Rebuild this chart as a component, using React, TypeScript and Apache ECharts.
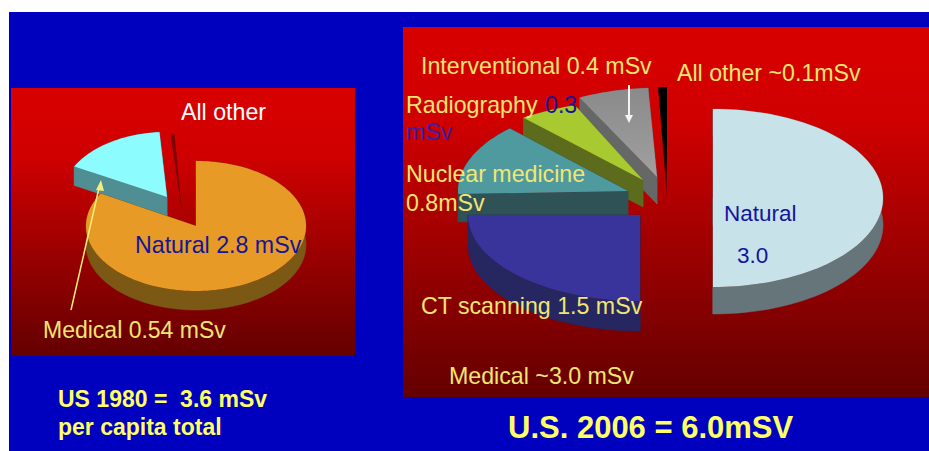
import React, { useEffect, useRef } from "react";
import * as echarts from "echarts";

// Annual per-capita dose, mSv
const names1980 = ["All other", "Medical", "Natural"];
const values1980 = [0.02, 0.54, 2.8];
const names2006 = ["All other", "Interventional", "Radiography", "Nuclear medicine", "CT scanning", "Natural"];
const values2006 = [0.1, 0.4, 0.3, 0.8, 1.5, 3.0];

// Each 1980 slice's share is taken against everything drawn on that pie
const total1980 = values1980.reduce((a, b) => a + b, 0);
const total2006 = 6.0;

type Look = { cx: number; cy: number; rx: number; ry: number; depth: number; start: number; top: string | string[]; side: string | string[] };

// Exploded placement of every wedge, listed back to front
const looks1980: Look[] = [
  { cx: 182, cy: 212, rx: 110, ry: 78, depth: 0, start: 354, top: "#7c0505", side: "#7c0505" },
  { cx: 167, cy: 197, rx: 105, ry: 65, depth: 19, start: 298, top: "#8cfcfe", side: "#4f8e92" },
  { cx: 196, cy: 226, rx: 110, ry: 65, depth: 19, start: 0, top: "#e89a26", side: "#7b5915" },
];
const looks2006: Look[] = [
  { cx: 667, cy: 197, rx: 85, ry: 110, depth: 0, start: 354, top: ["#000000", "#000000", "#7a0000"], side: "#000000" },
  { cx: 657, cy: 177, rx: 170, ry: 89, depth: 27, start: 333, top: ["#8a8a8a", "#a0a0a0"], side: "#666868" },
  { cx: 643, cy: 180, rx: 190, ry: 80, depth: 27, start: 321, top: "#a8c92f", side: "#5d6c1c" },
  { cx: 628, cy: 191, rx: 170, ry: 87, depth: 28, start: 268, top: "#4f9a9f", side: "#2f5256" },
  { cx: 640, cy: 215, rx: 172, ry: 86, depth: 30, start: 180, top: "#39349c", side: "#262660" },
  { cx: 713, cy: 198, rx: 170, ry: 89, depth: 27, start: 0, top: "#c7e2e8", side: "#66757a" },
];

const panels = [
  { x: 11, y: 88, w: 344, h: 268 },
  { x: 403, y: 27, w: 526, h: 370 },
];

const YELLOW = "#f2e672";
const TITLE = "#ffff66";
const BLUE = "#14149c";

const captions = [
  { text: "All other", x: 181, y: 112, fill: "#ffffff", size: 23.2 },
  { text: "Natural 2.8 mSv", x: 135, y: 245, fill: BLUE, size: 23.2 },
  { text: "Medical 0.54 mSv", x: 43, y: 330, fill: YELLOW, size: 23 },
  { text: "Interventional 0.4 mSv", x: 421, y: 66, fill: YELLOW, size: 23.2 },
  { text: "Radiography", x: 406, y: 105, fill: YELLOW, size: 23.2 },
  { text: "0.3", x: 545, y: 105, fill: BLUE, size: 23.2 },
  { text: "mSv", x: 406, y: 132, fill: "#3a20a8", size: 23.2 },
  { text: "Nuclear medicine", x: 406, y: 174, fill: YELLOW, size: 23.2 },
  { text: "0.8mSv", x: 406, y: 203, fill: YELLOW, size: 23.2 },
  { text: "All other ~0.1mSv", x: 677, y: 73, fill: YELLOW, size: 23.2 },
  { text: "Natural", x: 724, y: 213, fill: BLUE, size: 22.5 },
  { text: "3.0", x: 737, y: 255, fill: BLUE, size: 22.5 },
  { text: "CT scanning 1.5 mSv", x: 421, y: 306, fill: YELLOW, size: 23.2 },
  { text: "Medical ~3.0 mSv", x: 449, y: 376, fill: YELLOW, size: 23.2 },
];
const headings = [
  { text: "US 1980 =  3.6 mSv", x: 58, y: 399, fill: TITLE, size: 23 },
  { text: "per capita total", x: 58, y: 427, fill: TITLE, size: 23 },
  { text: "U.S. 2006 = 6.0mSV", x: 508, y: 427, fill: TITLE, size: 31 },
];

function paint(c: string | string[]) {
  if (typeof c === "string") return c;
  const stops = c.map((color, i) => ({ offset: i / (c.length - 1), color }));
  return new echarts.graphic.LinearGradient(0, 0, 0, 1, stops);
}

// One wedge of a tilted pie: radial faces and rim first, then the lid
function wedge(value: number, total: number, look: Look) {
  const { cx, cy, rx, ry, depth, start } = look;
  const sweep = (value / total) * 360;
  const steps = Math.max(2, Math.ceil(sweep / 2));
  const arc: number[][] = [];
  for (let i = 0; i <= steps; i++) {
    const a = ((start + (sweep * i) / steps) * Math.PI) / 180;
    arc.push([cx + rx * Math.sin(a), cy - ry * Math.cos(a)]);
  }
  const down = (p: number[]) => [p[0], p[1] + depth];
  const apex = [cx, cy];
  const children: any[] = [];
  const side = paint(look.side);
  if (depth > 0) {
    const faces = [
      [apex, arc[0], down(arc[0]), down(apex)],
      [apex, arc[steps], down(arc[steps]), down(apex)],
      [...arc, ...arc.slice().reverse().map(down)],
    ];
    for (const points of faces) {
      children.push({ type: "polygon", shape: { points }, style: { fill: side, stroke: side, lineWidth: 0.5 } });
    }
  }
  children.push({ type: "polygon", shape: { points: [apex, ...arc] }, style: { fill: paint(look.top) } });
  return { type: "group", children };
}

function pieSeries(name: string, names: string[], values: number[], total: number, looks: Look[]) {
  return {
    type: "custom",
    name,
    coordinateSystem: "none",
    z: 2,
    silent: true,
    data: names.map((n, i) => ({ name: n, value: [values[i], i] })),
    renderItem: (_: any, api: any) => {
      const i = api.value(1);
      return wedge(api.value(0), total, looks[i]);
    },
  };
}

function label(t: { text: string; x: number; y: number; fill: string; size: number }, weight: string) {
  return {
    type: "text",
    x: t.x,
    y: t.y,
    z: 100,
    style: {
      text: t.text,
      fill: t.fill,
      font: `${weight} ${t.size}px "Liberation Sans", Arial, sans-serif`,
      verticalAlign: "middle",
      align: "left",
    },
  };
}

export default function App() {
  const ref = useRef<HTMLDivElement>(null);
  useEffect(() => {
    const chart = echarts.init(ref.current!, undefined, { renderer: "svg" });
    chart.setOption({
      animation: false,
      series: [
        {
          type: "custom",
          coordinateSystem: "none",
          z: 1,
          silent: true,
          data: [0, 1],
          renderItem: (_: any, api: any) => {
            const p = panels[api.value(0)];
            const g = new echarts.graphic.LinearGradient(0, 0, 0, 1, [
              { offset: 0, color: "#d80000" },
              { offset: 0.25, color: "#d00000" },
              { offset: 1, color: "#640000" },
            ]);
            return {
              type: "group",
              children: [
                { type: "rect", shape: { x: p.x, y: p.y, width: p.w, height: p.h }, style: { fill: g } },
              ],
            };
          },
        },
        pieSeries("US 1980", names1980, values1980, total1980, looks1980),
        pieSeries("U.S. 2006", names2006, values2006, total2006, looks2006),
      ],
      graphic: {
        z: 100,
        elements: [
          // leader arrows
          { type: "line", z: 100, shape: { x1: 71, y1: 310, x2: 99, y2: 188 }, style: { stroke: "#f6ee7a", lineWidth: 1.5 } },
          { type: "polygon", z: 100, shape: { points: [[101, 180], [96, 190], [104, 191]] }, style: { fill: "#f6ee7a" } },
          { type: "line", z: 100, shape: { x1: 629, y1: 85, x2: 629, y2: 116 }, style: { stroke: "#f4f4f4", lineWidth: 2 } },
          { type: "polygon", z: 100, shape: { points: [[625, 115], [633, 115], [629, 123]] }, style: { fill: "#f4f4f4" } },
          ...captions.map((t) => label(t, "normal")),
          ...headings.map((t) => label(t, "bold")),
        ],
      },
    });
    return () => chart.dispose();
  }, []);
  return (
    <div style={{ position: "fixed", left: 0, top: 0, width: 929, height: 451, background: "#ffffff" }}>
      <div style={{ position: "absolute", left: 9, top: 12, width: 920, height: 439, background: "#0000bf" }} />
      <div ref={ref} style={{ position: "absolute", left: 0, top: 0, width: 929, height: 451 }} />
    </div>
  );
}
